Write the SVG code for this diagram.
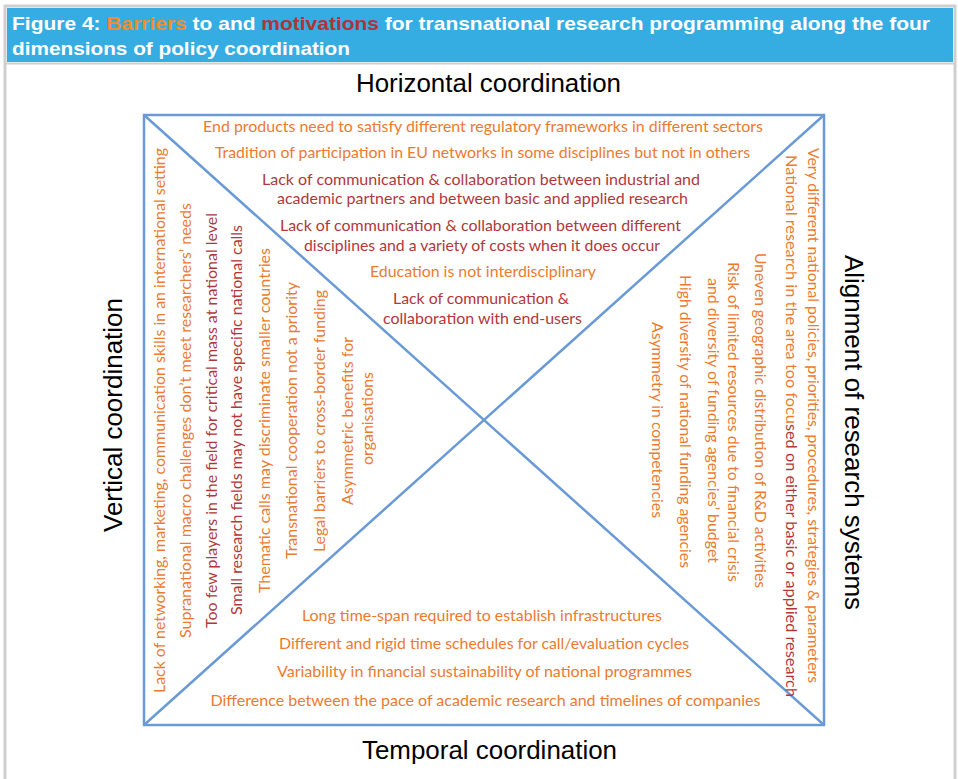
<svg xmlns="http://www.w3.org/2000/svg" width="958" height="779" viewBox="0 0 958 779">
<style>
.frame{fill:#fff;stroke:#cfcfcf;stroke-width:3}
.hdr{fill:#35ade3}
.ht{font-family:"Liberation Sans",Arial,sans-serif;font-weight:bold;font-size:19px;fill:#fff}
.edge{stroke:#6a9ad6;stroke-width:2.5;fill:none}
.lbl{font-family:"Liberation Sans",Arial,sans-serif;font-size:25px;fill:#000}
.t{font-family:Lato,"Open Sans",sans-serif;font-size:16px}
.o{fill:#ec7a30}
.r{fill:#b1383a}
</style>
<rect class="frame" x="5" y="6" width="950" height="780"/>
<rect class="hdr" x="7" y="8" width="946" height="54"/>
<line x1="6" y1="63.5" x2="954" y2="63.5" stroke="#cfcfcf" stroke-width="2"/>
<g id="title">
<text class="ht" x="12" y="30" textLength="918" lengthAdjust="spacingAndGlyphs">Figure 4: <tspan fill="#f28c2e">Barriers</tspan> to and <tspan fill="#b0333a">motivations</tspan> for transnational research programming along the four</text>
<text class="ht" x="12" y="55" textLength="338" lengthAdjust="spacingAndGlyphs">dimensions of policy coordination</text>
</g>
<g id="connectors">
<rect class="edge" x="144" y="115" width="680" height="610"/>
<line class="edge" x1="144" y1="115" x2="824" y2="725"/>
<line class="edge" x1="824" y1="115" x2="144" y2="725"/>
</g>
<g id="labels">
<text class="lbl" x="488.5" y="92" text-anchor="middle" textLength="265" lengthAdjust="spacingAndGlyphs">Horizontal coordination</text>
<text class="lbl" x="489.5" y="759" text-anchor="middle" textLength="255" lengthAdjust="spacingAndGlyphs">Temporal coordination</text>
<text class="lbl" transform="translate(122,415) rotate(-90)" x="0" y="0" text-anchor="middle" textLength="234" lengthAdjust="spacingAndGlyphs">Vertical coordination</text>
<text class="lbl" transform="translate(845,432.5) rotate(90)" x="0" y="0" text-anchor="middle" textLength="355" lengthAdjust="spacingAndGlyphs">Alignment of research systems</text>
</g>
<g id="horizontal">
<text class="t o" x="483" y="132" text-anchor="middle" textLength="560" lengthAdjust="spacingAndGlyphs">End products need to satisfy different regulatory frameworks in different sectors</text>
<text class="t o" x="482.5" y="157.5" text-anchor="middle" textLength="535" lengthAdjust="spacingAndGlyphs">Tradition of participation in EU networks in some disciplines but not in others</text>
<text class="t r" x="481" y="185" text-anchor="middle" textLength="438" lengthAdjust="spacingAndGlyphs">Lack of communication &amp; collaboration between industrial and</text>
<text class="t r" x="482.5" y="204" text-anchor="middle" textLength="411" lengthAdjust="spacingAndGlyphs">academic partners and between basic and applied research</text>
<text class="t r" x="480.5" y="231" text-anchor="middle" textLength="401" lengthAdjust="spacingAndGlyphs">Lack of communication &amp; collaboration between different</text>
<text class="t r" x="482" y="251" text-anchor="middle" textLength="356" lengthAdjust="spacingAndGlyphs">disciplines and a variety of costs when it does occur</text>
<text class="t o" x="483" y="277" text-anchor="middle" textLength="226" lengthAdjust="spacingAndGlyphs">Education is not interdisciplinary</text>
<text class="t r" x="481" y="304" text-anchor="middle" textLength="176" lengthAdjust="spacingAndGlyphs">Lack of communication &amp;</text>
<text class="t r" x="482.5" y="323.5" text-anchor="middle" textLength="199" lengthAdjust="spacingAndGlyphs">collaboration with end-users</text>
</g>
<g id="temporal">
<text class="t o" x="482" y="621" text-anchor="middle" textLength="360" lengthAdjust="spacingAndGlyphs">Long time-span required to establish infrastructures</text>
<text class="t o" x="484" y="649" text-anchor="middle" textLength="410" lengthAdjust="spacingAndGlyphs">Different and rigid time schedules for call/evaluation cycles</text>
<text class="t o" x="484.5" y="677" text-anchor="middle" textLength="415" lengthAdjust="spacingAndGlyphs">Variability in financial sustainability of national programmes</text>
<text class="t o" x="485.5" y="706" text-anchor="middle" textLength="550" lengthAdjust="spacingAndGlyphs">Difference between the pace of academic research and timelines of companies</text>
</g>
<g id="vertical">
<text class="t o" transform="translate(165,420.5) rotate(-90)" text-anchor="middle" textLength="545" lengthAdjust="spacingAndGlyphs">Lack of networking, marketing, communication skills in an international setting</text>
<text class="t o" transform="translate(190.5,420.5) rotate(-90)" text-anchor="middle" textLength="435" lengthAdjust="spacingAndGlyphs">Supranational macro challenges don’t meet researchers’ needs</text>
<text class="t r" transform="translate(217,420.5) rotate(-90)" text-anchor="middle" textLength="415" lengthAdjust="spacingAndGlyphs">Too few players in the field for critical mass at national level</text>
<text class="t r" transform="translate(242,420) rotate(-90)" text-anchor="middle" textLength="390" lengthAdjust="spacingAndGlyphs">Small research fields may not have specific national calls</text>
<text class="t o" transform="translate(270,420.5) rotate(-90)" text-anchor="middle" textLength="345" lengthAdjust="spacingAndGlyphs">Thematic calls may discriminate smaller countries</text>
<text class="t o" transform="translate(296.5,420.5) rotate(-90)" text-anchor="middle" textLength="277" lengthAdjust="spacingAndGlyphs">Transnational cooperation not a priority</text>
<text class="t o" transform="translate(325,421) rotate(-90)" text-anchor="middle" textLength="262" lengthAdjust="spacingAndGlyphs">Legal barriers to cross-border funding</text>
<text class="t o" transform="translate(353,421) rotate(-90)" text-anchor="middle" textLength="168" lengthAdjust="spacingAndGlyphs">Asymmetric benefits for</text>
<text class="t o" transform="translate(373,418.5) rotate(-90)" text-anchor="middle" textLength="93" lengthAdjust="spacingAndGlyphs">organisations</text>
</g>
<g id="alignment">
<text class="t o" transform="translate(807.5,415.5) rotate(90)" text-anchor="middle" textLength="535" lengthAdjust="spacingAndGlyphs">Very different national policies, priorities, procedures, strategies &amp; parameters</text>
<text class="t o" transform="translate(786,426) rotate(90)" text-anchor="middle" textLength="542" lengthAdjust="spacingAndGlyphs">National research in the area too focu<tspan class="r">sed on either basic or applied research</tspan></text>
<text class="t o" transform="translate(755,420.5) rotate(90)" text-anchor="middle" textLength="335" lengthAdjust="spacingAndGlyphs">Uneven geographic distribution of R&amp;D activities</text>
<text class="t o" transform="translate(728,422) rotate(90)" text-anchor="middle" textLength="320" lengthAdjust="spacingAndGlyphs">Risk of limited resources due to financial crisis</text>
<text class="t o" transform="translate(708,420.5) rotate(90)" text-anchor="middle" textLength="285" lengthAdjust="spacingAndGlyphs">and diversity of funding agencies’ budget</text>
<text class="t o" transform="translate(680,421.5) rotate(90)" text-anchor="middle" textLength="293" lengthAdjust="spacingAndGlyphs">High diversity of national funding agencies</text>
<text class="t o" transform="translate(652,420) rotate(90)" text-anchor="middle" textLength="196" lengthAdjust="spacingAndGlyphs">Asymmetry in competencies</text>
</g>
</svg>
